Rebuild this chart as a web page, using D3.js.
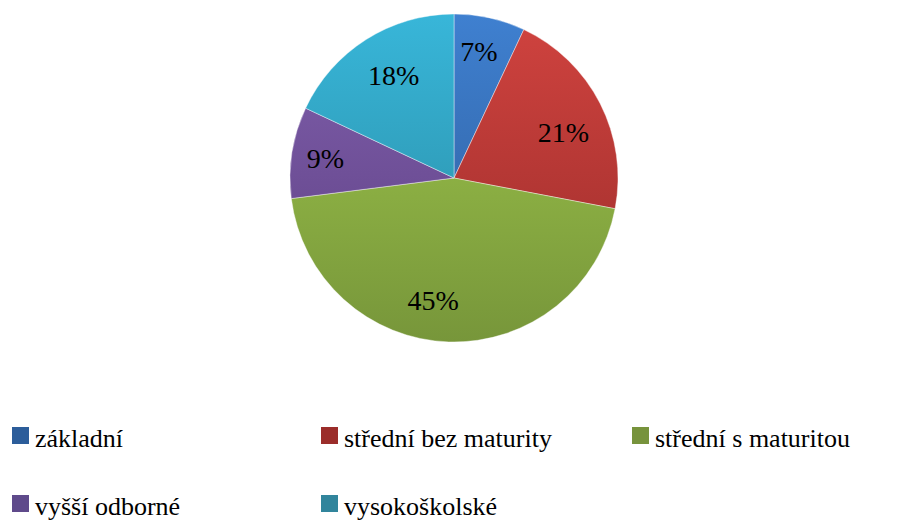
<!DOCTYPE html>
<html><head><meta charset="utf-8">
<script src="https://cdn.jsdelivr.net/npm/d3@7"></script>
</head><body>
<div id="wrap" style="position:relative;width:898px;height:529px;">
<svg id="c" width="898" height="529" style="position:absolute;left:0;top:0;display:block;"></svg>
</div>
<script>
const categories = ["základní","střední bez maturity","střední s maturitou","vyšší odborné","vysokoškolské"];
const values = [7,21,45,9,18];
const labels = ["7%","21%","45%","9%","18%"];
const topColors = ["#3f80d0","#d0433f","#a0c84c","#8160ad","#38b6d9"];
const bottomColors = ["#2d5b98","#9a2c2a","#77963a","#5c3f82","#28889f"];
const legendColors = ["#2c5d9a","#9b2d2a","#77933c","#5f4a8b","#31859c"];
const FONT = "Liberation Serif";

d3.select("body").style("margin","0").style("padding","0").style("background","#fff");
const wrap = d3.select("#wrap");
const svg = d3.select("#c");
const cx = 454, cy = 178, r = 164;
const defs = svg.append("defs");
categories.forEach((c,i)=>{
  const g = defs.append("linearGradient").attr("id","g"+i)
    .attr("gradientUnits","userSpaceOnUse")
    .attr("x1",0).attr("y1",-r).attr("x2",0).attr("y2",r);
  g.append("stop").attr("offset","0%").attr("stop-color",topColors[i]);
  g.append("stop").attr("offset","100%").attr("stop-color",bottomColors[i]);
});
const pie = d3.pie().sort(null).value(d=>d);
const arcs = pie(values);
const arc = d3.arc().innerRadius(0).outerRadius(r);
svg.selectAll("path.slice").data(arcs).enter().append("path")
  .attr("class","slice")
  .attr("d",arc)
  .attr("transform",`translate(${cx},${cy})`)
  .attr("fill",(d,i)=>`url(#g${i})`)
  .attr("stroke","rgba(255,255,255,0.5)").attr("stroke-width",0.8);

const labelArc = d3.arc().innerRadius(r*0.756).outerRadius(r*0.756);
const labelOffsets = [[-2,-5],[-1,11],[-17,-1],[-6,0],[6,3]];
arcs.forEach((d,i)=>{
  const c = labelArc.centroid(d);
  wrap.append("div")
    .style("position","absolute")
    .style("left",(cx+c[0]+labelOffsets[i][0])+"px")
    .style("top",(cy+c[1]+labelOffsets[i][1])+"px")
    .style("transform","translate(-50%,-50%)")
    .style("font-family",FONT)
    .style("font-size","28px").style("line-height","28px")
    .style("white-space","nowrap").style("color","#000")
    .text(labels[i]);
});

const legendPos = [[12,427],[321,427],[632,427],[12,495],[321,495]];
categories.forEach((c,i)=>{
  const [x,y] = legendPos[i];
  svg.append("rect").attr("x",x).attr("y",y).attr("width",17).attr("height",17).attr("fill",legendColors[i]);
  wrap.append("div")
    .style("position","absolute")
    .style("left",(x+23)+"px").style("top",(y-1)+"px")
    .style("font-family",FONT)
    .style("font-size","26px").style("line-height","26px")
    .style("white-space","nowrap").style("color","#000")
    .text(c);
});
</script>
</body></html>
